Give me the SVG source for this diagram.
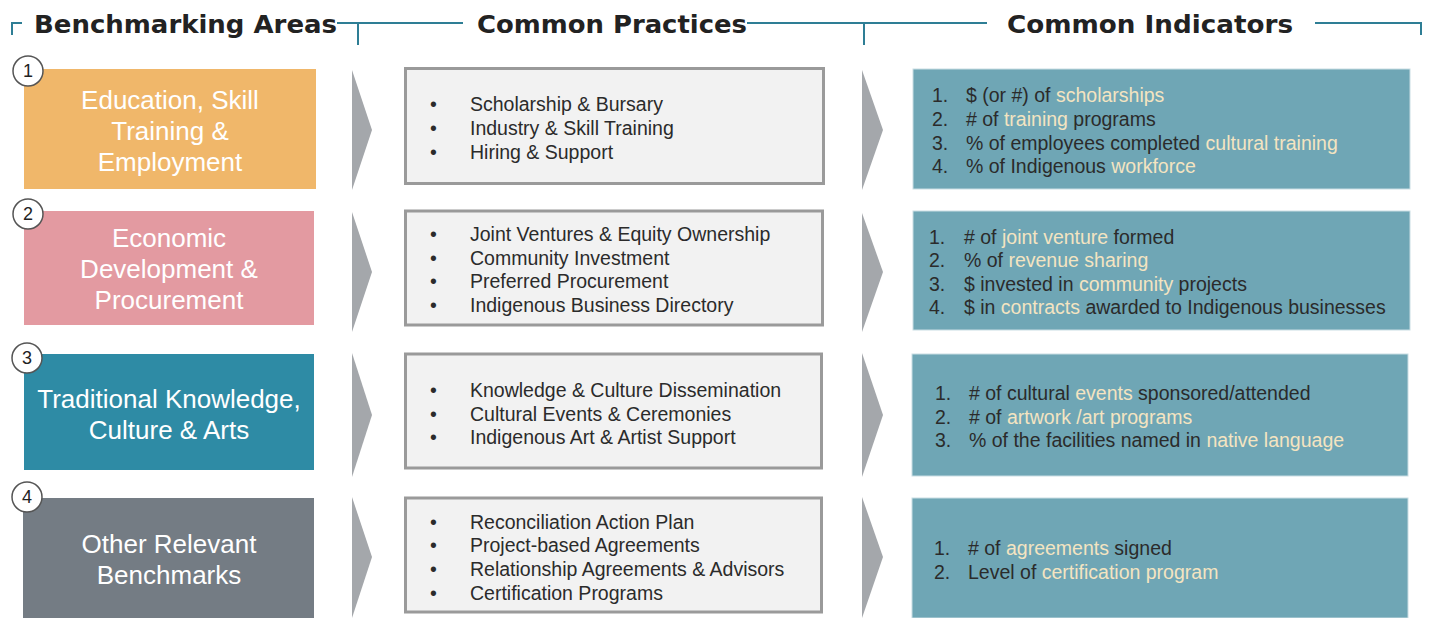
<svg xmlns="http://www.w3.org/2000/svg" width="1430" height="618" viewBox="0 0 1430 618">
<style>
.hdr{font-family:"DejaVu Sans",Verdana,sans-serif;font-weight:bold;font-size:25px;fill:#222}
.hl{fill:none;stroke:#2E7E95;stroke-width:2}
.area{font-family:"Liberation Sans",Arial,sans-serif;font-size:26px;fill:#fff;text-anchor:middle}
.prac{fill:#F2F2F2;stroke:#9A9A9A;stroke-width:3}
.ind{fill:#6FA6B5;stroke:#C9DDE3;stroke-width:1}
.txt{font-family:"Liberation Sans",Arial,sans-serif;font-size:19.5px;fill:#2B2B2B}
.h{fill:#F4E4C1}
.chev{fill:#A4A7AB}
.num{fill:#fff;stroke:#555;stroke-width:1.5}
.numt{font-family:"Liberation Sans",Arial,sans-serif;font-size:18px;fill:#222;text-anchor:middle}
</style>
<g id="header">
<path class="hl" d="M12,35 V23 H22"/>
<path class="hl" d="M337,23 H463 M358,23 V45"/>
<path class="hl" d="M747,23 H987 M864,23 V45"/>
<path class="hl" d="M1315,23 H1421 V35"/>
<text class="hdr" x="34" y="33" textLength="303" lengthAdjust="spacingAndGlyphs">Benchmarking Areas</text>
<text class="hdr" x="477" y="33" textLength="270" lengthAdjust="spacingAndGlyphs">Common Practices</text>
<text class="hdr" x="1007" y="33" textLength="286" lengthAdjust="spacingAndGlyphs">Common Indicators</text>
</g>
<g id="connectors">
<polygon class="chev" points="352,70 372,130 352,190"/>
<polygon class="chev" points="352,212 372,272 352,332"/>
<polygon class="chev" points="352,353 372,415 352,477"/>
<polygon class="chev" points="352,497 372,557 352,618"/>
<polygon class="chev" points="862,70 883,130 862,190"/>
<polygon class="chev" points="862,213 883,272 862,332"/>
<polygon class="chev" points="862,353 883,415 862,477"/>
<polygon class="chev" points="862,497 883,557 862,618"/>
</g>
<g id="area1">
<rect x="24" y="69" width="292" height="120" fill="#F0B76A"/>
<text class="area" x="170" y="109">Education, Skill</text>
<text class="area" x="170" y="140">Training &amp;</text>
<text class="area" x="170" y="171">Employment</text>
<circle class="num" cx="28" cy="71" r="15"/>
<text class="numt" x="28" y="77">1</text>
</g>
<g id="area2">
<rect x="24" y="211" width="290" height="114" fill="#E39AA1"/>
<text class="area" x="169" y="247">Economic</text>
<text class="area" x="169" y="278">Development &amp;</text>
<text class="area" x="169" y="309">Procurement</text>
<circle class="num" cx="28" cy="214" r="15"/>
<text class="numt" x="28" y="220">2</text>
</g>
<g id="area3">
<rect x="24" y="354" width="290" height="116" fill="#2E8BA5"/>
<text class="area" x="169" y="408">Traditional Knowledge,</text>
<text class="area" x="169" y="439">Culture &amp; Arts</text>
<circle class="num" cx="27" cy="358" r="15"/>
<text class="numt" x="27" y="364">3</text>
</g>
<g id="area4">
<rect x="23" y="498" width="291" height="120" fill="#747C84"/>
<text class="area" x="169" y="553">Other Relevant</text>
<text class="area" x="169" y="584">Benchmarks</text>
<circle class="num" cx="27" cy="497" r="15"/>
<text class="numt" x="27" y="503">4</text>
</g>
<g id="practices1">
<rect class="prac" x="405.5" y="68.5" width="418" height="115"/>
<text class="txt" x="430" y="111">•</text><text class="txt" x="470" y="111">Scholarship &amp; Bursary</text>
<text class="txt" x="430" y="135">•</text><text class="txt" x="470" y="135">Industry &amp; Skill Training</text>
<text class="txt" x="430" y="159">•</text><text class="txt" x="470" y="159">Hiring &amp; Support</text>
</g>
<g id="practices2">
<rect class="prac" x="405.5" y="211" width="417" height="114"/>
<text class="txt" x="430" y="241">•</text><text class="txt" x="470" y="241">Joint Ventures &amp; Equity Ownership</text>
<text class="txt" x="430" y="265">•</text><text class="txt" x="470" y="265">Community Investment</text>
<text class="txt" x="430" y="288">•</text><text class="txt" x="470" y="288">Preferred Procurement</text>
<text class="txt" x="430" y="312">•</text><text class="txt" x="470" y="312">Indigenous Business Directory</text>
</g>
<g id="practices3">
<rect class="prac" x="405.5" y="354" width="416" height="114"/>
<text class="txt" x="430" y="397">•</text><text class="txt" x="470" y="397">Knowledge &amp; Culture Dissemination</text>
<text class="txt" x="430" y="421">•</text><text class="txt" x="470" y="421">Cultural Events &amp; Ceremonies</text>
<text class="txt" x="430" y="444">•</text><text class="txt" x="470" y="444">Indigenous Art &amp; Artist Support</text>
</g>
<g id="practices4">
<rect class="prac" x="405.5" y="498" width="416" height="114"/>
<text class="txt" x="430" y="529">•</text><text class="txt" x="470" y="529">Reconciliation Action Plan</text>
<text class="txt" x="430" y="552">•</text><text class="txt" x="470" y="552">Project-based Agreements</text>
<text class="txt" x="430" y="576">•</text><text class="txt" x="470" y="576">Relationship Agreements &amp; Advisors</text>
<text class="txt" x="430" y="600">•</text><text class="txt" x="470" y="600">Certification Programs</text>
</g>
<g id="indicators1">
<rect class="ind" x="913" y="69" width="497" height="120"/>
<text class="txt" x="932" y="102">1.</text><text class="txt" x="966" y="102">$ (or #) of <tspan class="h">scholarships</tspan></text>
<text class="txt" x="932" y="126">2.</text><text class="txt" x="966" y="126"># of <tspan class="h">training</tspan> programs</text>
<text class="txt" x="932" y="150">3.</text><text class="txt" x="966" y="150">% of employees completed <tspan class="h">cultural training</tspan></text>
<text class="txt" x="932" y="173">4.</text><text class="txt" x="966" y="173">% of Indigenous <tspan class="h">workforce</tspan></text>
</g>
<g id="indicators2">
<rect class="ind" x="913" y="211" width="497" height="119"/>
<text class="txt" x="929" y="244">1.</text><text class="txt" x="964" y="244"># of <tspan class="h">joint venture</tspan> formed</text>
<text class="txt" x="929" y="267">2.</text><text class="txt" x="964" y="267">% of <tspan class="h">revenue sharing</tspan></text>
<text class="txt" x="929" y="291">3.</text><text class="txt" x="964" y="291">$ invested in <tspan class="h">community</tspan> projects</text>
<text class="txt" x="929" y="314">4.</text><text class="txt" x="964" y="314">$ in <tspan class="h">contracts</tspan> awarded to Indigenous businesses</text>
</g>
<g id="indicators3">
<rect class="ind" x="912" y="354" width="496" height="122"/>
<text class="txt" x="935" y="400">1.</text><text class="txt" x="969" y="400"># of cultural <tspan class="h">events</tspan> sponsored/attended</text>
<text class="txt" x="935" y="424">2.</text><text class="txt" x="969" y="424"># of <tspan class="h">artwork /art programs</tspan></text>
<text class="txt" x="935" y="447">3.</text><text class="txt" x="969" y="447">% of the facilities named in <tspan class="h">native language</tspan></text>
</g>
<g id="indicators4">
<rect class="ind" x="912" y="498" width="496" height="120"/>
<text class="txt" x="934" y="555">1.</text><text class="txt" x="968" y="555"># of <tspan class="h">agreements</tspan> signed</text>
<text class="txt" x="934" y="579">2.</text><text class="txt" x="968" y="579">Level of <tspan class="h">certification program</tspan></text>
</g>
</svg>
